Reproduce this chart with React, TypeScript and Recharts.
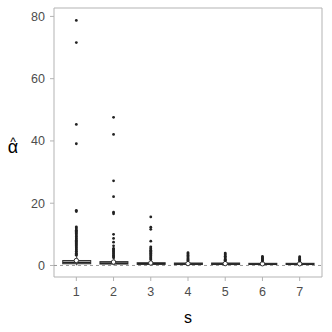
import { ComposedChart, Bar, Scatter, XAxis, YAxis, ReferenceLine, ReferenceArea } from "recharts";

const categories = [1, 2, 3, 4, 5, 6, 7];
const yTicks = [0, 20, 40, 60, 80];

// box statistics per s
const whiskerLow = [0.05, 0.04, 0.03, 0.03, 0.03, 0.03, 0.03];
const q1 = [0.55, 0.45, 0.35, 0.3, 0.3, 0.3, 0.3];
const median = [0.95, 0.75, 0.55, 0.5, 0.5, 0.45, 0.45];
const q3 = [1.6, 1.25, 0.9, 0.8, 0.8, 0.7, 0.7];
const whiskerHigh = [3.1, 2.4, 1.7, 1.5, 1.5, 1.3, 1.3];
const means = [1.6, 1.1, 0.8, 0.6, 0.6, 0.55, 0.55];

const outliers1 = [78.7, 71.6, 45.3, 39.1, 17.7, 17.3, 12.4, 12.1, 11.7, 11.3, 11.0, 10.6, 10.3, 9.9, 9.5, 9.2, 8.8, 8.5, 8.1, 7.8, 7.4, 7.1, 6.7, 6.4, 6.0, 5.7, 5.3, 5.0, 4.6, 4.3, 3.9, 3.6, 3.3];
const outliers2 = [47.6, 42.1, 27.2, 22.1, 17.1, 16.6, 10.0, 8.7, 7.5, 6.3, 5.5, 5.2, 4.8, 4.5, 4.1, 3.8, 3.4, 3.1, 2.8, 2.5];
const outliers3 = [15.6, 12.3, 11.6, 7.8, 6.0, 5.6, 5.3, 4.9, 4.6, 4.2, 3.9, 3.5, 3.2, 2.8, 2.5, 2.2, 1.9];
const outliers4 = [4.1, 3.8, 3.4, 3.1, 2.8, 2.4, 2.1, 1.8, 1.6];
const outliers5 = [4.0, 3.7, 3.4, 3.0, 2.7, 2.4, 2.0, 1.7, 1.6];
const outliers6 = [2.9, 2.6, 2.3, 2.0, 1.7, 1.4];
const outliers7 = [2.8, 2.5, 2.2, 1.9, 1.6, 1.4];

const boxData = categories.map((s, i) => ({
  s,
  lo: whiskerLow[i],
  q1: q1[i],
  med: median[i],
  q3: q3[i],
  hi: whiskerHigh[i],
}));

const outlierData = [outliers1, outliers2, outliers3, outliers4, outliers5, outliers6, outliers7].flatMap((vals, i) =>
  vals.map((v) => ({ s: categories[i], v }))
);
const meanData = categories.map((s, i) => ({ s, v: means[i] }));

const font = "Liberation Sans, Arial, sans-serif";
const axisColor = "#b3b3b3";
const tickText = { fill: "#4d4d4d", fontSize: 12.5, fontFamily: font };

// the bar spans the whisker range; box and median are placed inside it on the same linear scale
function BoxShape(props: any) {
  const { x, y, width, height } = props;
  const d = props.payload ?? props;
  const toY = (v: number) => y + (height * (d.hi - v)) / (d.hi - d.lo);
  const cx = x + width / 2;
  const top = toY(d.q3);
  const bottom = toY(d.q1);
  return (
    <g>
      <line x1={cx} x2={cx} y1={toY(d.hi)} y2={toY(d.lo)} stroke="#333" strokeWidth={1} />
      <rect x={x} y={top} width={width} height={Math.max(bottom - top, 1)} fill="#c8c8c8" stroke="#333" strokeWidth={1} />
      <line x1={x} x2={x + width} y1={toY(d.med)} y2={toY(d.med)} stroke="#222" strokeWidth={1.6} />
    </g>
  );
}

function YTitle({ viewBox }: any) {
  const cx = viewBox.x + 13;
  const cy = viewBox.y + viewBox.height / 2;
  return (
    <g fontFamily={font} fill="#000" textAnchor="middle">
      <text x={cx} y={cy + 10} fontSize={18}>α</text>
      <text x={cx} y={cy + 3} fontSize={12}>^</text>
    </g>
  );
}

export default function App() {
  return (
    <div style={{ position: "absolute", left: 0, top: 0, width: 332, height: 332, background: "#fff" }}>
      <ComposedChart width={332} height={332} data={boxData} margin={{ top: 8, right: 10, left: 0, bottom: 0 }}>
        <XAxis
          type="number"
          dataKey="s"
          domain={[0.4, 7.6]}
          ticks={categories}
          height={55}
          stroke={axisColor}
          tickSize={4}
          tickMargin={6}
          tick={tickText}
          axisLine={false}
          label={({ viewBox }: any) => (
            <text x={viewBox.x + viewBox.width / 2} y={viewBox.y + 46} textAnchor="middle" fontSize={16} fontFamily={font} fill="#000">
              s
            </text>
          )}
        />
        <YAxis
          type="number"
          dataKey="v"
          domain={[-3.7, 82.7]}
          ticks={yTicks}
          width={54}
          stroke={axisColor}
          tickSize={4}
          tickMargin={5}
          tick={tickText}
          axisLine={false}
          allowDataOverflow
          label={YTitle}
        />
        <ReferenceArea x1={0.4} x2={7.6} y1={-3.7} y2={82.7} fill="none" stroke={axisColor} strokeWidth={1} ifOverflow="visible" />
        <ReferenceLine y={0} stroke="#999" strokeDasharray="3 3" strokeWidth={1} />
        <Bar dataKey={(d: any) => [d.lo, d.hi]} barSize={28} shape={BoxShape} isAnimationActive={false} />
        <Scatter
          data={meanData}
          isAnimationActive={false}
          shape={(p: any) => <circle cx={p.cx} cy={p.cy} r={2.2} fill="#fff" stroke="#333" strokeWidth={1} />}
        />
        <Scatter
          data={outlierData}
          isAnimationActive={false}
          shape={(p: any) => <circle cx={p.cx} cy={p.cy} r={1.4} fill="#222" />}
        />
      </ComposedChart>
    </div>
  );
}
